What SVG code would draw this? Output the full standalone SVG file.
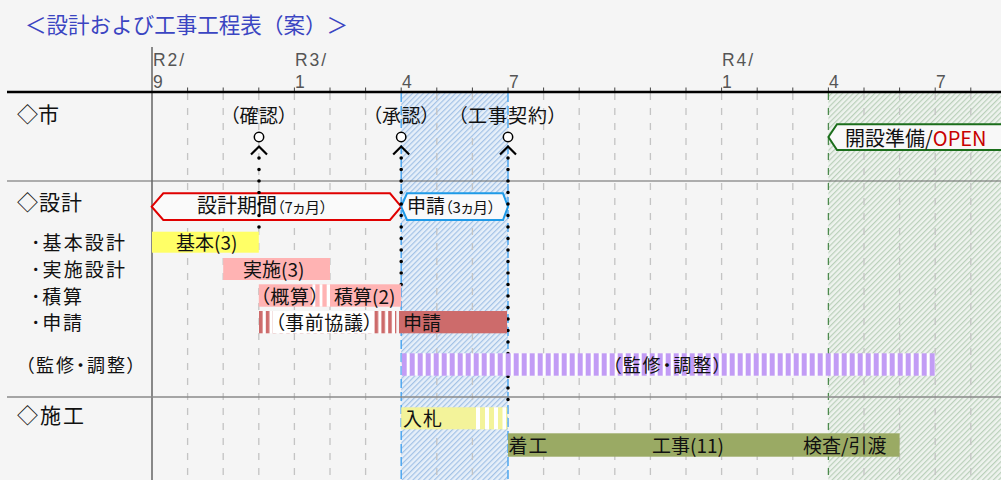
<svg xmlns="http://www.w3.org/2000/svg" width="1001" height="480" viewBox="0 0 1001 480">
<defs>
<style>
.t{font-family:"Noto Sans CJK JP","Noto Sans",sans-serif;fill:#111}
.p{font-feature-settings:"palt" 1}
.hd{font-family:"Liberation Sans",sans-serif;fill:#555;font-size:17.5px}
.grid{stroke:#c4c4c4;stroke-width:1.3;stroke-dasharray:7 8}
.tick{stroke:#444;stroke-width:1}
.dots{fill:none;stroke:#000;stroke-width:3.6;stroke-linecap:round;stroke-dasharray:0 11.5}
.ms{fill:#fff;stroke:#000;stroke-width:1.5}
.chev{fill:none;stroke:#000;stroke-width:2.2}
</style>
<pattern id="hb" patternUnits="userSpaceOnUse" width="3.8" height="3.8" patternTransform="rotate(45)">
<rect width="3.8" height="3.8" fill="#e6eff9"/>
<line x1="0.6" y1="0" x2="0.6" y2="3.8" stroke="#a3c2e6" stroke-width="1.2"/>
</pattern>
<pattern id="hg" patternUnits="userSpaceOnUse" width="3.8" height="3.8" patternTransform="rotate(45)">
<rect width="3.8" height="3.8" fill="#eef3ee"/>
<line x1="0.6" y1="0" x2="0.6" y2="3.8" stroke="#bad0ba" stroke-width="1.2"/>
</pattern>
<pattern id="pp" patternUnits="userSpaceOnUse" x="401.7" y="0" width="8" height="10">
<rect width="8" height="10" fill="#fff"/>
<rect width="5" height="10" fill="#c29cf5"/>
</pattern>
<pattern id="pr" patternUnits="userSpaceOnUse" x="259" y="0" width="6.8" height="10">
<rect width="6.8" height="10" fill="#fff"/>
<rect width="3.6" height="10" fill="#cd6b6b"/>
</pattern>
</defs>
<rect width="1001" height="480" fill="#f5f5f5"/>
<text class="t" x="25" y="33" font-size="21.5" style="fill:#3b45c2" textLength="323" lengthAdjust="spacing">＜設計および工事工程表（案）＞</text>

<g id="bands">
<rect x="401.2" y="93" width="106.8" height="387" fill="url(#hb)"/>
<rect x="828.4" y="93" width="173" height="387" fill="url(#hg)"/>
</g>

<g id="grid">
<line class="grid" x1="187.6" y1="93" x2="187.6" y2="480"/>
<line class="grid" x1="223.2" y1="93" x2="223.2" y2="480"/>
<line class="grid" x1="258.8" y1="93" x2="258.8" y2="480"/>
<line class="grid" x1="294.4" y1="93" x2="294.4" y2="480"/>
<line class="grid" x1="330" y1="93" x2="330" y2="480"/>
<line class="grid" x1="365.6" y1="93" x2="365.6" y2="480"/>
<line class="grid" x1="436.8" y1="93" x2="436.8" y2="480"/>
<line class="grid" x1="472.4" y1="93" x2="472.4" y2="480"/>
<line class="grid" x1="543.6" y1="93" x2="543.6" y2="480"/>
<line class="grid" x1="579.2" y1="93" x2="579.2" y2="480"/>
<line class="grid" x1="614.8" y1="93" x2="614.8" y2="480"/>
<line class="grid" x1="650.4" y1="93" x2="650.4" y2="480"/>
<line class="grid" x1="686" y1="93" x2="686" y2="480"/>
<line class="grid" x1="721.6" y1="93" x2="721.6" y2="480"/>
<line class="grid" x1="757.2" y1="93" x2="757.2" y2="480"/>
<line class="grid" x1="792.8" y1="93" x2="792.8" y2="480"/>
<line class="grid" x1="864" y1="93" x2="864" y2="480"/>
<line class="grid" x1="899.6" y1="93" x2="899.6" y2="480"/>
<line class="grid" x1="935.2" y1="93" x2="935.2" y2="480"/>
<line class="grid" x1="970.8" y1="93" x2="970.8" y2="480"/>
<line x1="401.2" y1="93" x2="401.2" y2="480" stroke="#4da6f0" stroke-width="1.5" stroke-dasharray="9 4"/>
<line x1="508" y1="93" x2="508" y2="480" stroke="#4da6f0" stroke-width="1.5" stroke-dasharray="9 4"/>
<line x1="828.4" y1="93" x2="828.4" y2="480" stroke="#4d8a4d" stroke-width="1.3" stroke-dasharray="7 8"/>
<line x1="152" y1="47" x2="152" y2="480" stroke="#888" stroke-width="2"/>
</g>

<g id="header">
<g class="tick">
<line x1="187.6" y1="87.5" x2="187.6" y2="92"/><line x1="223.2" y1="87.5" x2="223.2" y2="92"/>
<line x1="258.8" y1="87.5" x2="258.8" y2="92"/><line x1="294.4" y1="87.5" x2="294.4" y2="92"/>
<line x1="330" y1="87.5" x2="330" y2="92"/><line x1="365.6" y1="87.5" x2="365.6" y2="92"/>
<line x1="401.2" y1="87.5" x2="401.2" y2="92"/><line x1="436.8" y1="87.5" x2="436.8" y2="92"/>
<line x1="472.4" y1="87.5" x2="472.4" y2="92"/><line x1="508" y1="87.5" x2="508" y2="92"/>
<line x1="543.6" y1="87.5" x2="543.6" y2="92"/><line x1="579.2" y1="87.5" x2="579.2" y2="92"/>
<line x1="614.8" y1="87.5" x2="614.8" y2="92"/><line x1="650.4" y1="87.5" x2="650.4" y2="92"/>
<line x1="686" y1="87.5" x2="686" y2="92"/><line x1="721.6" y1="87.5" x2="721.6" y2="92"/>
<line x1="757.2" y1="87.5" x2="757.2" y2="92"/><line x1="792.8" y1="87.5" x2="792.8" y2="92"/>
<line x1="828.4" y1="87.5" x2="828.4" y2="92"/><line x1="864" y1="87.5" x2="864" y2="92"/>
<line x1="899.6" y1="87.5" x2="899.6" y2="92"/><line x1="935.2" y1="87.5" x2="935.2" y2="92"/>
<line x1="970.8" y1="87.5" x2="970.8" y2="92"/>
</g>
<text class="hd" x="153" y="66" textLength="31" lengthAdjust="spacing">R2/</text>
<text class="hd" x="153" y="88">9</text>
<text class="hd" x="295" y="66" textLength="31" lengthAdjust="spacing">R3/</text>
<text class="hd" x="295" y="88">1</text>
<text class="hd" x="402" y="88">4</text>
<text class="hd" x="509" y="88">7</text>
<text class="hd" x="722" y="66" textLength="31" lengthAdjust="spacing">R4/</text>
<text class="hd" x="722" y="88">1</text>
<text class="hd" x="829" y="88">4</text>
<text class="hd" x="936" y="88">7</text>
<line x1="7" y1="92" x2="1001" y2="92" stroke="#000" stroke-width="2.5"/>
<line x1="7" y1="181" x2="1001" y2="181" stroke="#666" stroke-width="1.2"/>
<line x1="7" y1="397" x2="1001" y2="397" stroke="#8a8a8a" stroke-width="1.6"/>
</g>

<g id="labels">
<text class="t" x="17" y="122" font-size="21">◇市</text>
<text class="t" x="17" y="210" font-size="21" textLength="65" lengthAdjust="spacing">◇設計</text>
<text class="t" x="31" y="250" font-size="19" textLength="94" lengthAdjust="spacing">･基本設計</text>
<text class="t" x="31" y="277" font-size="19" textLength="94" lengthAdjust="spacing">･実施設計</text>
<text class="t" x="31" y="304" font-size="19" textLength="51" lengthAdjust="spacing">･積算</text>
<text class="t" x="31" y="330" font-size="19" textLength="51" lengthAdjust="spacing">･申請</text>
<text class="t p" x="25" y="372" font-size="18" letter-spacing="2">（監修・調整）</text>
<text class="t" x="17" y="423" font-size="21" textLength="67" lengthAdjust="spacing">◇施工</text>
</g>

<g id="m-kakunin">
<text class="t p" x="259" y="123" font-size="19" text-anchor="middle" letter-spacing="0.5">（確認）</text>
</g>
<g id="m-shounin">
<text class="t p" x="401.5" y="123" font-size="19" text-anchor="middle" letter-spacing="0.5">（承認）</text>
</g>
<g id="m-keiyaku">
<text class="t p" x="508" y="123" font-size="19" text-anchor="middle" letter-spacing="1">（工事契約）</text>
</g>

<g id="design-period">
<polygon points="151.7,206.7 163.3,193.3 390,193.3 401.2,206.7 390,220 163.3,220" fill="#fafafa" stroke="#e00000" stroke-width="2"/>
<text class="t" x="197" y="213" font-size="20">設計期間<tspan class="p" font-size="15">（7ヵ月）</tspan></text>
</g>
<g id="apply-period">
<polygon points="401.2,206.7 407,193.3 503,193.3 508,206.7 503,220 407,220" fill="#f8f9fb" stroke="#1e9ae8" stroke-width="2"/>
<text class="t" x="407" y="213" font-size="19">申請<tspan class="p" font-size="15">（3ヵ月）</tspan></text>
</g>
<g id="open-prep">
<polygon points="828.4,137 837,124.3 1010,124.3 1010,150 837,150" fill="#f8f8f8" stroke="#1b6e1b" stroke-width="2"/>
<text class="t" x="845" y="146" font-size="20">開設準備/<tspan style="fill:#c80000">OPEN</tspan></text>
</g>

<g id="connectors">
<line class="dots" x1="259" y1="158" x2="259" y2="230"/>
<line class="dots" x1="401.2" y1="158" x2="401.2" y2="290"/>
<line class="dots" x1="508" y1="158" x2="508" y2="405"/>
<circle class="ms" cx="259" cy="137" r="4.7"/>
<circle class="ms" cx="401.2" cy="137" r="4.7"/>
<circle class="ms" cx="508" cy="137" r="4.7"/>
<polyline class="chev" points="251,154.5 259,146.5 267,154.5"/>
<polyline class="chev" points="393.2,154.5 401.2,146.5 409.2,154.5"/>
<polyline class="chev" points="500,154.5 508,146.5 516,154.5"/>
</g>

<g id="bar-kihon">
<rect x="152" y="231.7" width="106.8" height="21" fill="#ffff66"/>
<text class="t" x="176" y="249.5" font-size="19">基本(3)</text>
</g>
<g id="bar-jisshi">
<rect x="223.2" y="258" width="106.8" height="22" fill="#ffb3b3"/>
<text class="t" x="243" y="277" font-size="19">実施(3)</text>
</g>
<g id="bar-gaisan">
<rect x="258.8" y="284.3" width="71.2" height="22.4" fill="#ffb3b3"/>
<rect x="312.5" y="284.3" width="2.8" height="22.4" fill="#fff"/>
<rect x="319.6" y="284.3" width="2.8" height="22.4" fill="#fff"/>
<rect x="326.7" y="284.3" width="3.3" height="22.4" fill="#fff"/>
<text class="t p" x="260" y="304" font-size="19" letter-spacing="0.8">（概算）</text>
</g>
<g id="bar-sekisan">
<rect x="330" y="284.3" width="71.2" height="22.4" fill="#ffb3b3"/>
<text class="t" x="334" y="304" font-size="19">積算(2)</text>
</g>
<g id="bar-jizen">
<rect x="258.8" y="311" width="137.5" height="22.3" fill="url(#pr)"/>
<rect x="272.5" y="311" width="101.5" height="22.3" fill="#fff"/>
<text class="t p" x="275" y="330" font-size="19" letter-spacing="0.6">（事前協議）</text>
</g>
<g id="bar-shinsei">
<rect x="399" y="311" width="108" height="22.3" fill="#cd6b6b"/>
<text class="t" x="403" y="330" font-size="19">申請</text>
</g>
<g id="bar-kanshu">
<rect x="401.7" y="353.3" width="533.5" height="22.4" fill="url(#pp)"/>
<text class="t p" x="612" y="372" font-size="18" letter-spacing="1.8">（監修・調整）</text>
</g>
<g id="bar-nyusatsu">
<rect x="401.2" y="407.3" width="106" height="22" fill="#f3f39a"/>
<rect x="476" y="407.3" width="4" height="22" fill="#fff"/>
<rect x="485" y="407.3" width="4" height="22" fill="#fff"/>
<rect x="494" y="407.3" width="4" height="22" fill="#fff"/>
<rect x="502.5" y="407.3" width="3.5" height="22" fill="#fff"/>
<text class="t" x="403" y="426" font-size="19" letter-spacing="1">入札</text>
</g>
<g id="bar-koji">
<rect x="508" y="433.3" width="391.6" height="23.4" fill="#9aaa64"/>
<text class="t" x="508.5" y="452.5" font-size="19" letter-spacing="1">着工</text>
<text class="t" x="652" y="452.5" font-size="19">工事(11)</text>
<text class="t" x="803" y="452.5" font-size="19">検査/引渡</text>
</g>
</svg>
